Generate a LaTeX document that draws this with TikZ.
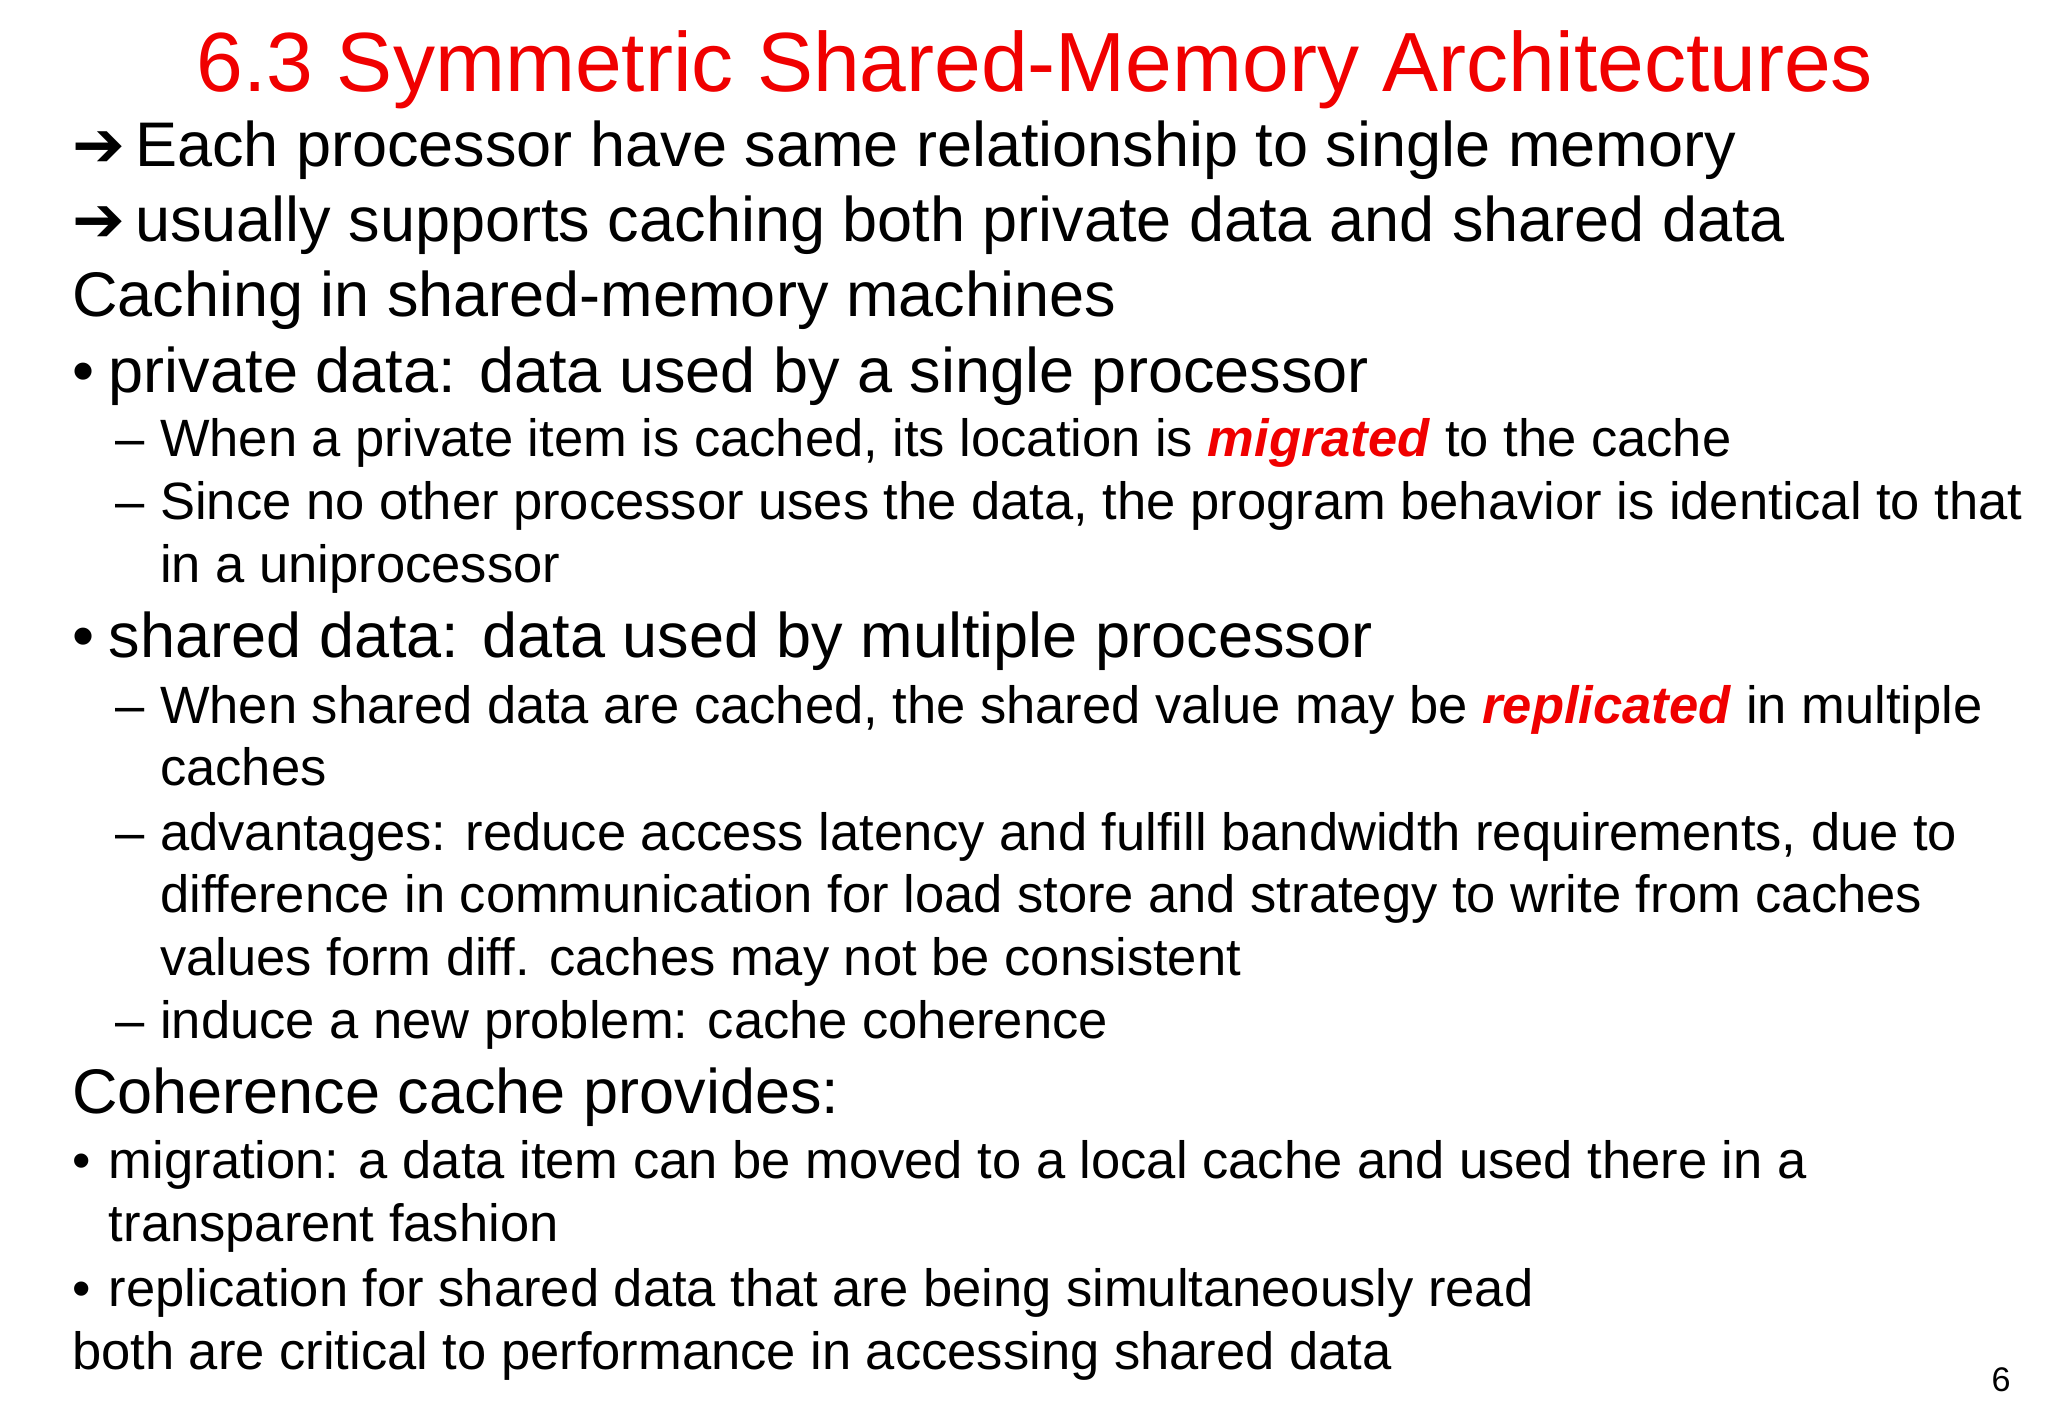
\documentclass[tikz,border=0pt]{standalone}
\usepackage{fontspec}
\setmainfont{Liberation Sans}
\newfontfamily\symbfont{DejaVu Sans}
\definecolor{tred}{RGB}{240,0,0}
\tikzset{t/.style={anchor=base west,inner sep=0pt,outer sep=0pt},
big/.style={t,font=\fontsize{24}{28}\selectfont},
sub/.style={t,font=\fontsize{20}{22}\selectfont}}
\newcommand{\hl}[1]{\textcolor{tred}{\textbf{\textit{#1}}}}
\begin{document}
\begin{tikzpicture}[x=0.5pt,y=-0.5pt]
\useasboundingbox[fill=white] (0,0) rectangle (1560,1080);
\node[t,font=\fontsize{32}{34}\selectfont,text=tred] (title) at (150,70) {6.3 Symmetric Shared-Memory Architectures};
\node[big] (a1) at (55,127) {{\symbfont ➔}};
\node[big] (a1t) at (103,127) {Each processor have same relationship to single memory};
\node[big] (a2) at (55,184) {{\symbfont ➔}};
\node[big] (a2t) at (103,184) {usually supports caching both private data and shared data};
\node[big] (h1) at (55,241) {Caching in shared-memory machines};
\node[big] (b1) at (55,299) {•};
\node[big] (b1t) at (83,299) {private data: data used by a single processor};
\node[sub] (d1) at (88,348) {–};
\node[sub] (d1t) at (122,348) {When a private item is cached, its location is \hl{migrated} to the cache};
\node[sub] (d2) at (88,396) {–};
\node[sub] (d2t) at (122,396) {Since no other processor uses the data, the program behavior is identical to that};
\node[sub] (d2u) at (122,444) {in a uniprocessor};
\node[big] (b2) at (55,501) {•};
\node[big] (b2t) at (83,501) {shared data: data used by multiple processor};
\node[sub] (d3) at (88,551) {–};
\node[sub] (d3t) at (122,551) {When shared data are cached, the shared value may be \hl{replicated} in multiple};
\node[sub] (d3u) at (122,598) {caches};
\node[sub] (d4) at (88,648) {–};
\node[sub] (d4t) at (122,648) {advantages: reduce access latency and fulfill bandwidth requirements, due to};
\node[sub] (d4u) at (122,695) {difference in communication for load store and strategy to write from caches};
\node[sub] (d4v) at (122,743) {values form diff. caches may not be consistent};
\node[sub] (d5) at (88,791) {–};
\node[sub] (d5t) at (122,791) {induce a new problem: cache coherence};
\node[big] (h2) at (55,848) {Coherence cache provides:};
\node[sub] (e1) at (55,898) {•};
\node[sub] (e1t) at (83,898) {migration: a data item can be moved to a local cache and used there in a};
\node[sub] (e1u) at (83,946) {transparent fashion};
\node[sub] (e2) at (55,995) {•};
\node[sub] (e2t) at (83,995) {replication for shared data that are being simultaneously read};
\node[sub] (e3) at (55,1043) {both are critical to performance in accessing shared data};
\node[t,font=\fontsize{13}{15}\selectfont] (pg) at (1517,1060) {6};
\end{tikzpicture}
\end{document}
